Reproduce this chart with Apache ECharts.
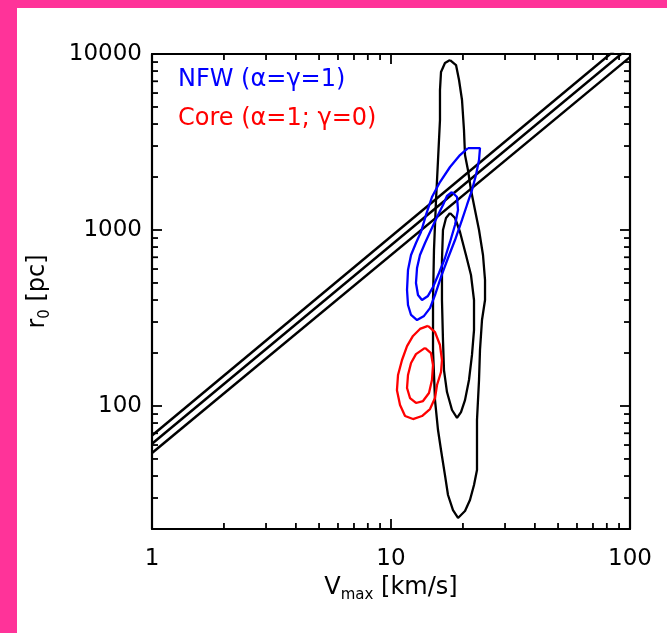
<!DOCTYPE html>
<html><head><meta charset="utf-8">
<script src="https://cdn.jsdelivr.net/npm/echarts@6/dist/echarts.min.js"></script>
<style>html,body{margin:0;padding:0;background:#fff}#c{width:667px;height:633px}</style>
</head><body><div id="c"></div>
<script>
// ---- data ----
const xTickLabels = ['1', '10', '100'];
const yTickLabels = ['100', '1000', '10000'];
const xMinorTicks = [2, 3, 4, 5, 6, 7, 8, 9, 20, 30, 40, 50, 60, 70, 80, 90];
const yMinorTicks = [30, 40, 50, 60, 70, 80, 90, 200, 300, 400, 500, 600, 700, 800, 900,
  2000, 3000, 4000, 5000, 6000, 7000, 8000, 9000];
const legendLabels = ['NFW (\u03b1=\u03b3=1)', 'Core (\u03b1=1; \u03b3=0)'];

// r0 - Vmax relation band (three lines)
const relUpper = [[1, 68], [100, 12400]];
const relMiddle = [[1, 61], [100, 11000]];
const relLower = [[1, 54], [100, 9600]];

// black contours (all data)
const blackOuter = [[17.66, 9244], [18.71, 8657], [19.26, 7116], [19.82, 5477], [20.20, 3698], [20.40, 2667],
  [20.99, 2192], [21.61, 1687], [22.46, 1299], [23.35, 1000], [24.26, 721], [24.74, 520], [24.74, 400],
  [24.03, 308], [23.57, 208], [23.35, 140.5], [22.90, 83.2], [22.90, 43.3], [22.25, 35.6], [21.40, 29.2],
  [20.40, 25.3], [19.07, 23.1], [18.17, 25.6], [17.32, 31.2], [16.82, 40.5], [16.19, 56.2], [15.73, 73.0],
  [15.28, 108], [14.99, 208], [14.99, 400], [15.13, 770], [15.43, 1480], [15.73, 2499], [16.03, 4215],
  [16.03, 6242], [16.19, 7898], [16.82, 8888], [17.66, 9244]];
const blackInner = [[17.66, 1249], [18.53, 1170], [19.44, 974], [20.59, 721], [21.61, 555], [22.25, 400],
  [22.25, 270], [21.82, 195], [21.20, 140.5], [20.40, 108], [19.63, 92.4], [18.89, 85.5], [18.00, 94.9],
  [17.15, 120], [16.66, 160], [16.50, 237], [16.34, 400], [16.34, 675], [16.50, 1000], [16.99, 1170],
  [17.66, 1249]];

// NFW contours (blue)
const nfwOuter = [[20.99, 2922], [23.57, 2922], [23.35, 2499], [22.68, 2053], [21.82, 1687], [20.79, 1387],
  [19.82, 1140], [18.53, 877], [17.32, 693], [16.19, 541], [15.28, 427], [14.56, 360], [13.75, 325],
  [12.85, 308], [12.13, 329], [11.78, 375], [11.67, 456], [11.78, 592], [12.13, 721], [12.72, 843],
  [13.35, 974], [14.01, 1217], [14.84, 1540], [16.03, 1873], [17.66, 2280], [19.44, 2667], [20.99, 2922]];
const nfwInner = [[18.00, 1644], [18.89, 1540], [19.07, 1299], [18.53, 1067], [17.66, 855], [16.82, 693],
  [15.88, 570], [14.99, 474], [14.28, 422], [13.48, 400], [12.97, 427], [12.72, 500], [12.85, 608],
  [13.22, 721], [13.88, 843], [14.70, 1000], [15.58, 1185], [16.50, 1387], [17.15, 1560], [18.00, 1644]];

// Core contours (red)
const coreOuter = [[14.28, 285], [15.28, 263], [16.03, 222], [16.34, 182.5], [16.19, 156], [15.58, 131.6],
  [15.28, 111], [14.56, 96.1], [13.48, 87.7], [12.36, 84.3], [11.45, 87.7], [10.91, 101.3], [10.59, 123],
  [10.70, 150], [11.12, 182.5], [11.67, 219], [12.36, 250], [13.22, 274], [14.28, 285]];
const coreInner = [[13.88, 214], [14.70, 200], [14.99, 171], [14.84, 140.5], [14.42, 118.5], [13.61, 106.7],
  [12.72, 104], [12.01, 111], [11.67, 126.5], [11.78, 150], [12.13, 175.5], [12.72, 197], [13.88, 214]];

// ---- chart ----
const FONT = 'DejaVu Sans';
const PINK = '#ff3399';
const chart = echarts.init(document.getElementById('c'), null, {renderer: 'canvas'});

function labelFmt(list) {
  return function (v) {
    const s = String(Math.round(v));
    return list.indexOf(s) >= 0 ? s : '';
  };
}
function lineSeries(data, color, w) {
  return {
    type: 'line', data: data, showSymbol: false, symbol: 'none', clip: true,
    lineStyle: {color: color, width: w}, silent: true, animation: false, z: 3
  };
}
function minorTickSeries(vals, isX) {
  return {
    type: 'custom', silent: true, animation: false, z: 4, clip: false,
    data: vals.map(v => isX ? [v, 100] : [10, v]),
    renderItem: function (params, api) {
      const cs = params.coordSys;
      const p = api.coord([api.value(0), api.value(1)]);
      const st = {stroke: '#000', lineWidth: 1.8};
      const L = 6;
      if (isX) {
        return {type: 'group', children: [
          {type: 'line', shape: {x1: p[0], y1: cs.y + cs.height, x2: p[0], y2: cs.y + cs.height - L}, style: st},
          {type: 'line', shape: {x1: p[0], y1: cs.y, x2: p[0], y2: cs.y + L}, style: st}
        ]};
      }
      return {type: 'group', children: [
        {type: 'line', shape: {x1: cs.x, y1: p[1], x2: cs.x + L, y2: p[1]}, style: st},
        {type: 'line', shape: {x1: cs.x + cs.width, y1: p[1], x2: cs.x + cs.width - L, y2: p[1]}, style: st}
      ]};
    }
  };
}

const axisCommon = {
  axisLine: {show: true, lineStyle: {color: '#000', width: 2.2}},
  axisTick: {show: true, inside: true, length: 10, lineStyle: {color: '#000', width: 1.8}},
  splitLine: {show: false},
  minorTick: {show: false}
};
const nameRich = {
  a: {fontSize: 24, fontFamily: FONT, color: '#000', lineHeight: 30},
  s: {fontSize: 15, fontFamily: FONT, color: '#000', lineHeight: 14, verticalAlign: 'bottom'}
};

chart.setOption({
  animation: false,
  backgroundColor: '#fff',
  textStyle: {fontFamily: FONT},
  grid: {left: 152, right: 37, top: 54, bottom: 104, containLabel: false, outerBoundsMode: 'none'},
  xAxis: [
    Object.assign({
      type: 'log', logBase: 10, min: 1, max: 100, position: 'bottom',
      axisLabel: {formatter: labelFmt(xTickLabels), color: '#000', fontSize: 23, fontFamily: FONT, margin: 19,
        showMinLabel: true, showMaxLabel: true, hideOverlap: false},
      name: '{a|V}{s|max}{a| [km/s]}', nameLocation: 'middle', nameGap: 44,
      nameTextStyle: {rich: nameRich}
    }, axisCommon),
    Object.assign({
      type: 'log', logBase: 10, min: 1, max: 100, position: 'top',
      axisLabel: {show: false}
    }, axisCommon)
  ],
  yAxis: [
    Object.assign({
      type: 'log', logBase: 10, min: 20, max: 10000, position: 'left',
      axisLabel: {formatter: labelFmt(yTickLabels), color: '#000', fontSize: 23, fontFamily: FONT, margin: 10,
        showMinLabel: true, showMaxLabel: true, hideOverlap: false},
      name: '{a|r}{s|0}{a| [pc]}', nameLocation: 'middle', nameGap: 99, nameRotate: 90,
      nameTextStyle: {rich: nameRich}
    }, axisCommon),
    Object.assign({
      type: 'log', logBase: 10, min: 20, max: 10000, position: 'right',
      axisLabel: {show: false}
    }, axisCommon)
  ],
  graphic: [
    {type: 'rect', left: 0, top: 0, shape: {width: 667, height: 8}, style: {fill: PINK}, z: 100},
    {type: 'rect', left: 0, top: 0, shape: {width: 17, height: 633}, style: {fill: PINK}, z: 100},
    {type: 'text', left: 178, top: 68, style: {text: legendLabels[0], fill: '#0000ff', font: '24px "DejaVu Sans"'}, z: 50},
    {type: 'text', left: 178, top: 107, style: {text: legendLabels[1], fill: '#ff0000', font: '24px "DejaVu Sans"'}, z: 50}
  ],
  series: [
    lineSeries(relUpper, '#000', 2.5),
    lineSeries(relMiddle, '#000', 2.5),
    lineSeries(relLower, '#000', 2.5),
    lineSeries(blackOuter, '#000', 2.3),
    lineSeries(blackInner, '#000', 2.3),
    lineSeries(nfwOuter, '#0000ff', 2.3),
    lineSeries(nfwInner, '#0000ff', 2.3),
    lineSeries(coreOuter, '#ff0000', 2.3),
    lineSeries(coreInner, '#ff0000', 2.3),
    minorTickSeries(xMinorTicks, true),
    minorTickSeries(yMinorTicks, false)
  ]
});
</script>
</body></html>
